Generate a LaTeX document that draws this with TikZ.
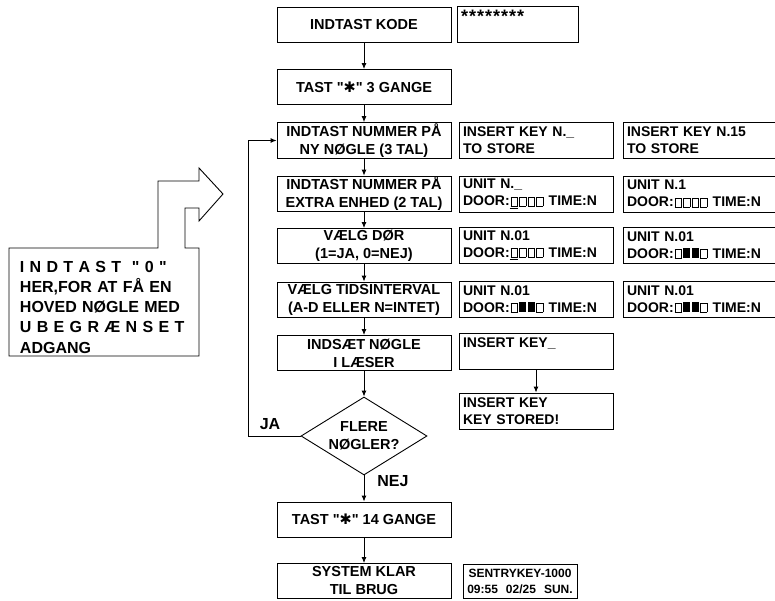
\documentclass[tikz,border=0pt]{standalone}
\usepackage{fontspec}
\setmainfont{Liberation Sans}[Ligatures=TeXOff]
\newfontfamily\dingfont{DejaVu Sans}
\usetikzlibrary{arrows.meta,shapes.geometric}
\setlength\fboxsep{0pt}
\setlength\fboxrule{0.7pt}
\newcommand\emptycell{\kern1pt\fbox{\rule{0pt}{8.6pt}\kern5.6pt}\kern0.6pt}
\newcommand\fullcell{\kern1pt\rule{7pt}{10pt}\kern0.6pt}
\newcommand\cursorcell{\underline{\emptycell}}
\newcommand\starkey{"{\dingfont\char"2731}"}

\begin{document}
\begin{tikzpicture}[x=1pt,y=-1pt,line width=0.9pt,
  every node/.style={font=\bfseries\fontsize{14.5}{18}\selectfont},
  stepbox/.style={draw,minimum width=174pt,minimum height=35pt,align=center,inner sep=1pt},
  lcd/.style={draw,minimum height=36pt,text width=146pt,inner xsep=4pt,inner ysep=1pt,align=left,
    font=\bfseries\fontsize{14}{17}\selectfont},
  flow/.style={-{Latex[length=6pt,width=5pt]}}]
\useasboundingbox (0,0) rectangle (775,601);
\clip (0,0) rectangle (775,601);

% main column
\node[stepbox] (kode) at (364,24.5) {INDTAST KODE};
\node[stepbox] (tast3) at (364,87) {TAST \starkey{} 3 GANGE};
\node[stepbox] (ny) at (364,140.5) {INDTAST NUMMER PÅ\\NY NØGLE (3 TAL)};
\node[stepbox] (extra) at (364,194) {INDTAST NUMMER PÅ\\EXTRA ENHED (2 TAL)};
\node[stepbox] (door) at (364,246) {VÆLG DØR\\(1=JA, 0=NEJ)};
\node[stepbox] (tid) at (364,299.5) {VÆLG TIDSINTERVAL\\(A-D ELLER N=INTET)};
\node[stepbox] (laeser) at (364,353) {INDSÆT NØGLE\\I LÆSER};
\node[diamond,draw,aspect=1.6,minimum width=126pt,minimum height=78pt,inner sep=0pt,align=center] (flere) at (364,436) {FLERE\\NØGLER?};
\node[stepbox] (tast14) at (364,519.5) {TAST \starkey{} 14 GANGE};
\node[stepbox] (klar) at (364,581) {SYSTEM KLAR\\TIL BRUG};

% displays
\node[lcd,text width=113pt] (stars) at (517.5,24.5) {{\fontsize{18}{18}\selectfont *\kern1pt*\kern1pt*\kern1pt*\kern1pt*\kern1pt*\kern1pt*\kern1pt*}\\\mbox{}};
\node[lcd] (ins1) at (536,140.5) {INSERT KEY N.\_\\TO STORE};
\node[lcd] (ins15) at (700,140.5) {INSERT KEY N.15\\TO STORE};
\node[lcd] (unit1) at (536,194) {UNIT N.\_\\DOOR:\cursorcell\emptycell\emptycell\emptycell\ TIME:N};
\node[lcd] (unit2) at (700,194) {UNIT N.1\\DOOR:\emptycell\emptycell\emptycell\emptycell\ TIME:N};
\node[lcd] (unit3) at (536,245) {UNIT N.01\\DOOR:\cursorcell\emptycell\emptycell\emptycell\ TIME:N};
\node[lcd] (unit4) at (700,245) {UNIT N.01\\DOOR:\emptycell\fullcell\fullcell\emptycell\ TIME:N};
\node[lcd] (unit5) at (536,299) {UNIT N.01\\DOOR:\emptycell\fullcell\fullcell\emptycell\ TIME:N};
\node[lcd] (unit6) at (700,299) {UNIT N.01\\DOOR:\emptycell\fullcell\fullcell\emptycell\ TIME:N};
\node[lcd] (ins2) at (536,351) {INSERT KEY\_\\\mbox{}};
\node[lcd] (stored) at (536,411) {INSERT KEY\\KEY STORED!};
\node[lcd,text width=108pt,inner xsep=3pt,minimum height=34pt,align=center,
  font=\bfseries\fontsize{12}{16}\selectfont] (sentry) at (520,581)
  {SENTRYKEY-1000\\09:55\hspace{8pt}02/25\hspace{8pt}SUN.};

% hint with block arrow
\draw[line join=miter] (9,248) -- (158,248) -- (158,181) -- (199,181) -- (199,168) -- (223,194)
  -- (199,221) -- (199,208) -- (185,208) -- (185,248) -- (199,248) -- (199,356) -- (9,356) -- cycle;
\node[anchor=north west,inner sep=0pt,text width=175pt,align=left,
  font=\bfseries\fontsize{16}{20.25}\selectfont] (hint) at (19.5,260.5)
  {\makebox[175pt][s]{I N D T A S T\ \ " 0 "}\\
   \makebox[175pt][s]{HER,FOR AT FÅ EN}\\
   \makebox[175pt][s]{HOVED NØGLE MED}\\
   \makebox[175pt][s]{U B E G R Æ N S E T}\\
   ADGANG};

% labels
\node[font=\bfseries\fontsize{16}{18}\selectfont] (ja) at (270,424) {JA};
\node[font=\bfseries\fontsize{16}{18}\selectfont] (nej) at (393,481) {NEJ};

% connectors
\draw[flow] (kode) -- (tast3);
\draw[flow] (tast3) -- (ny);
\draw[flow] (ny) -- (extra);
\draw[flow] (extra) -- (door);
\draw[flow] (door) -- (tid);
\draw[flow] (tid) -- (laeser);
\draw[flow] (laeser) -- (flere);
\draw[flow] (flere) -- (tast14);
\draw[flow] (tast14) -- (klar);
\draw[flow] (ins2) -- (stored);
\coordinate (bend) at (248,436);
\draw[flow] (flere.west) -- (bend) |- (ny.west);
\end{tikzpicture}
\end{document}
